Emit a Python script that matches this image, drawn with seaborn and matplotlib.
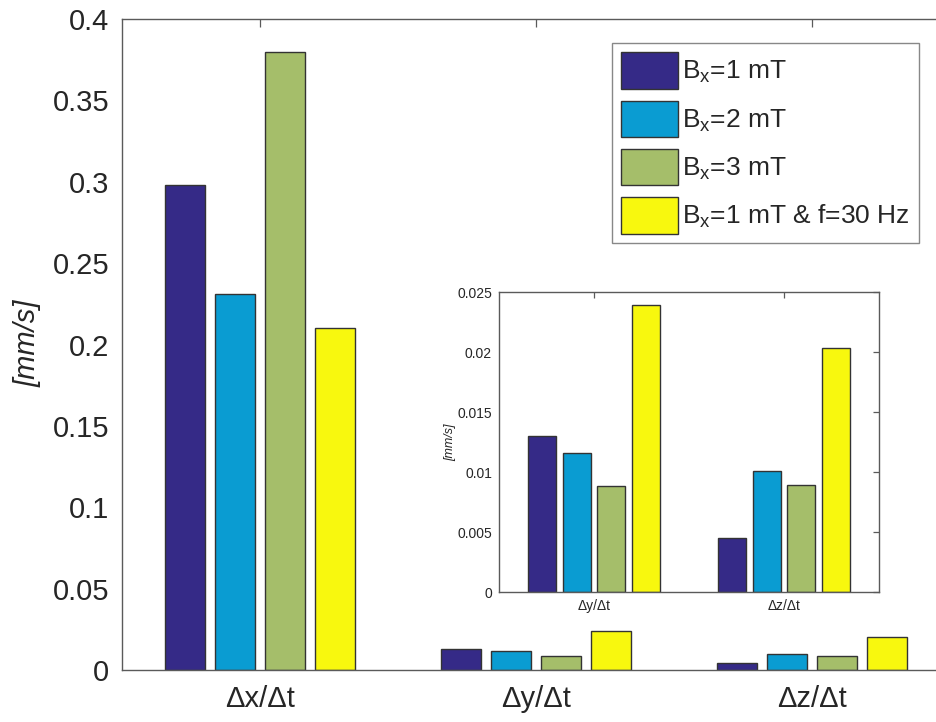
import numpy as np
import pandas as pd
import seaborn as sns
import matplotlib
matplotlib.use("Agg")
import matplotlib.pyplot as plt

sns.set_theme(style="white")
plt.rcParams["font.family"] = ["Liberation Sans", "DejaVu Sans"]
plt.rcParams["mathtext.default"] = "regular"

# Mean drift velocities per direction and field configuration [mm/s]
components = ["\u0394x/\u0394t", "\u0394y/\u0394t", "\u0394z/\u0394t"]
series_labels = [
    r"B$_{x}$=1 mT",
    r"B$_{x}$=2 mT",
    r"B$_{x}$=3 mT",
    r"B$_{x}$=1 mT & f=30 Hz",
]
bx_1mT = [0.298, 0.0130, 0.0045]
bx_2mT = [0.231, 0.0116, 0.0101]
bx_3mT = [0.380, 0.0088, 0.0089]
bx_1mT_30Hz = [0.210, 0.0239, 0.0203]
y_ticks_main = [0, 0.05, 0.1, 0.15, 0.2, 0.25, 0.3, 0.35, 0.4]
y_ticks_inset = [0, 0.005, 0.01, 0.015, 0.02, 0.025]

colors = ["#352A87", "#0A9CD2", "#A5BE6A", "#F8F80E"]

rows = []
for lab, vals in zip(series_labels, [bx_1mT, bx_2mT, bx_3mT, bx_1mT_30Hz]):
    for comp, v in zip(components, vals):
        rows.append({"component": comp, "series": lab, "value": v})
df = pd.DataFrame(rows)

fig = plt.figure(figsize=(9.37, 7.22), dpi=100)
W, H = 937, 722


def px_axes(left, top, right, bottom):
    return fig.add_axes([left / W, 1 - bottom / H, (right - left) / W, (bottom - top) / H])


spine_col = "#5a5a5a"


def style_axes(ax, fs, ticklen):
    for s in ax.spines.values():
        s.set_color(spine_col)
        s.set_linewidth(1.0)
    ax.tick_params(direction="in", length=ticklen, width=0.9, color=spine_col,
                   top=True, right=True, labelsize=fs, labelcolor="#262626")


# Main axes
ax = px_axes(122, 19, 950, 670)
sns.barplot(data=df, x="component", y="value", hue="series", hue_order=series_labels,
            palette=colors, saturation=1, width=0.725, gap=0.2, edgecolor="#333333",
            linewidth=1.0, errorbar=None, ax=ax, legend=True)
ax.set_xlim(-0.5, 2.5)
ax.set_ylim(0, 0.4)
ax.set_yticks(y_ticks_main)
ax.set_yticklabels(["0", "0.05", "0.1", "0.15", "0.2", "0.25", "0.3", "0.35", "0.4"])
ax.set_xlabel("")
ax.set_ylabel("[mm/s]", fontsize=21, fontstyle="italic", color="#262626")
ax.yaxis.set_label_coords(-0.097, 0.502)
style_axes(ax, 21, 6)
ax.tick_params(axis="y", pad=9)
ax.tick_params(axis="x", pad=11)

leg = ax.legend(loc="upper left", bbox_to_anchor=(612 / W, 1 - 43 / H),
                bbox_transform=fig.transFigure, fontsize=19, frameon=True,
                fancybox=False, edgecolor="#6a6a6a", handlelength=2.15,
                handleheight=1.75, labelspacing=0.45, borderpad=0.35,
                handletextpad=0.15, borderaxespad=0)
leg.get_frame().set_linewidth(1.0)
for h in leg.legend_handles:
    h.set_edgecolor("#333333")
    h.set_linewidth(1.0)

# Inset with the small transverse components
df_small = df[df["component"] != components[0]]
axi = px_axes(499, 292, 879, 592)
sns.barplot(data=df_small, x="component", y="value", hue="series", hue_order=series_labels,
            palette=colors, saturation=1, width=0.73, gap=0.2, edgecolor="#333333",
            linewidth=1.0, errorbar=None, ax=axi, legend=False)
axi.set_xlim(-0.5, 1.5)
axi.set_ylim(0, 0.025)
axi.set_yticks(y_ticks_inset)
axi.set_yticklabels(["0", "0.005", "0.01", "0.015", "0.02", "0.025"])
axi.set_xlabel("")
axi.set_ylabel("[mm/s]", fontsize=9, fontstyle="italic", color="#262626")
axi.yaxis.set_label_coords(-0.113, 0.5)
style_axes(axi, 10, 4)
axi.tick_params(axis="y", pad=5)
axi.tick_params(axis="x", pad=5)
axi.set_facecolor("white")

fig.savefig("out.png", dpi=100, facecolor="white")
